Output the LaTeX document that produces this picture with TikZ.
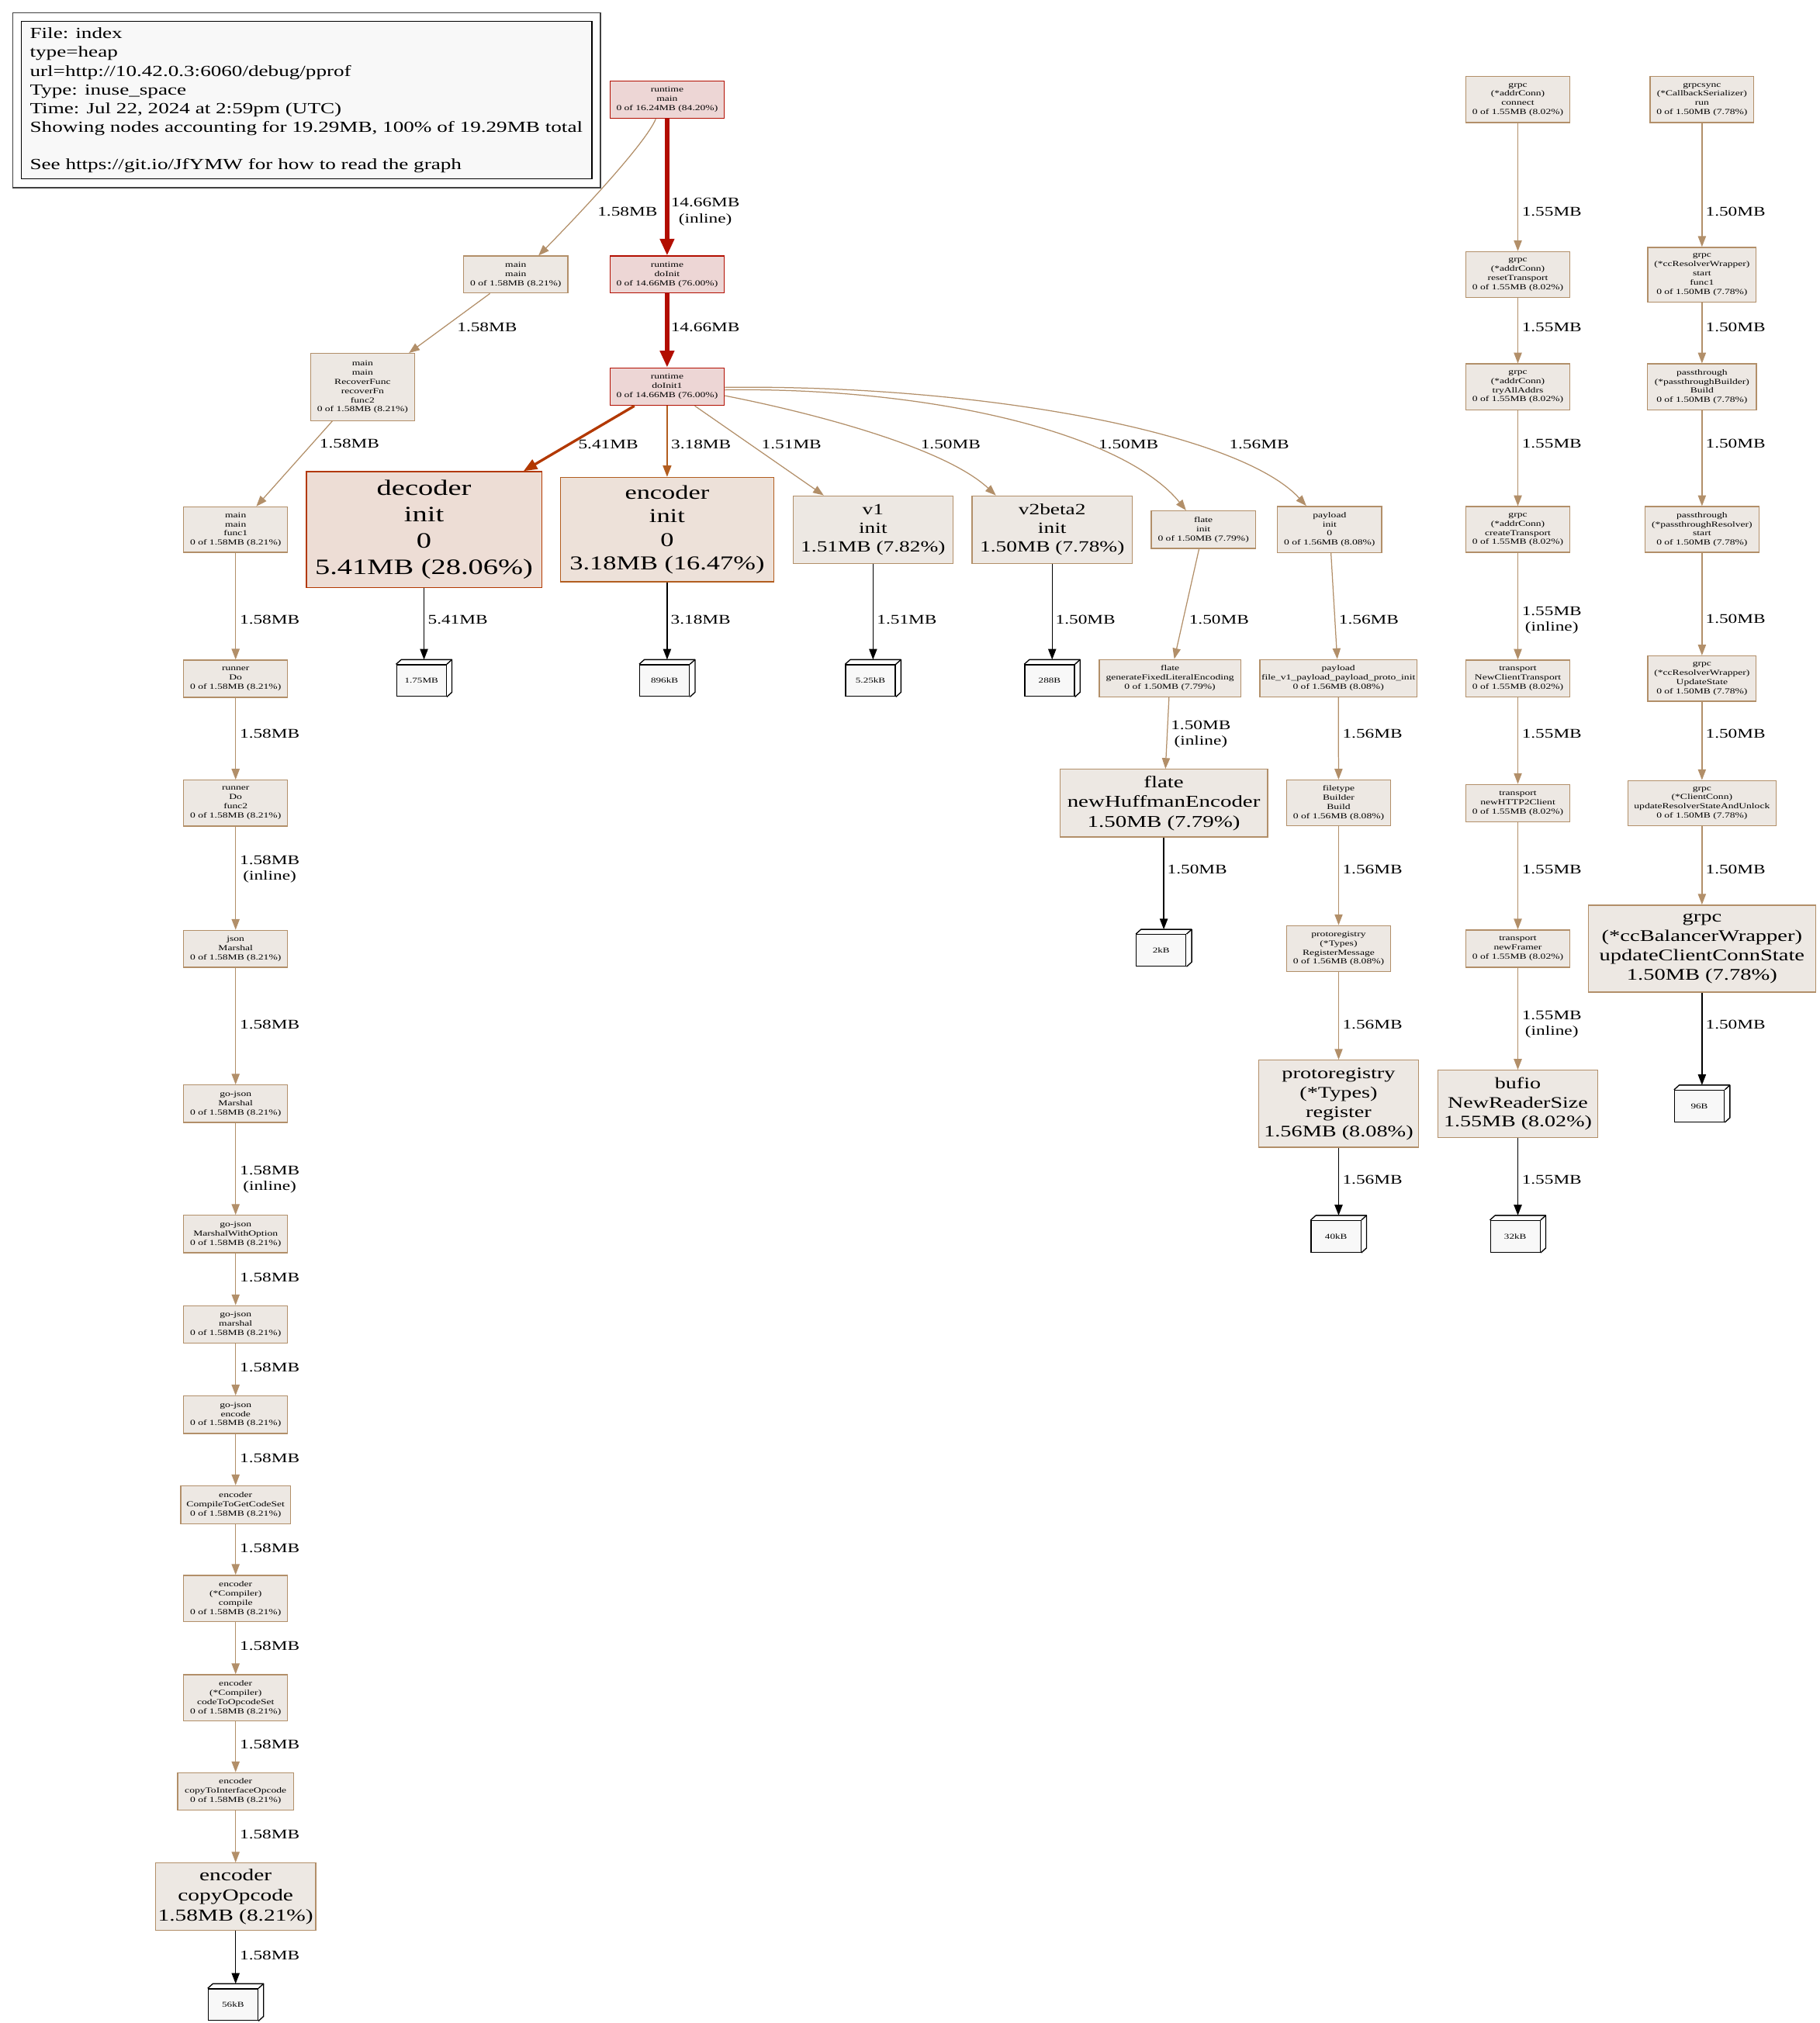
\documentclass[tikz,border=0pt]{standalone}
\usepackage{fontspec}
\setmainfont{Liberation Serif}[FakeStretch=1.36]
\usepackage{xcolor}
\usepackage{tikz}
\usetikzlibrary{arrows.meta}
\definecolor{HotFill}{HTML}{EDD6D5}
\definecolor{HotLine}{HTML}{B20E00}
\definecolor{DecFill}{HTML}{EDDDD5}
\definecolor{DecLine}{HTML}{B23800}
\definecolor{EncFill}{HTML}{EDE1D9}
\definecolor{EncLine}{HTML}{B25D1F}
\definecolor{FnFill}{HTML}{EDE8E3}
\definecolor{FnLine}{HTML}{B28F69}
\definecolor{LeafFill}{HTML}{F8F8F8}
\newcommand{\fnsmall}{\fontsize{6}{7.15}\selectfont}
\newcommand{\fnlabel}{\fontsize{10.3}{12.3}\selectfont}
\newcommand{\fnlegend}{\fontsize{12}{14.5}\selectfont}
\newcommand{\fnleaf}{\fontsize{5.8}{7}\selectfont}
% box3d leaf: front face, top and side faces, and the point the arrow ends at
\newcommand{\leafbox}[4]{%
  \node[leaf] (#1) at (#2,#3) {#4};
  \draw[leafline] (#1.north west) -- ([xshift=4pt,yshift=3.6pt]#1.north west) -- ([xshift=4pt,yshift=3.6pt]#1.north east) -- ([xshift=4pt,yshift=3.6pt]#1.south east) -- (#1.south east);
  \draw[leafline] (#1.north east) -- ([xshift=4pt,yshift=3.6pt]#1.north east);
  \coordinate (#1top) at ([xshift=2pt,yshift=3.6pt]#1.north);
}
\tikzset{
  fn/.style={draw=FnLine, fill=FnFill, line width=0.8pt, align=center, inner sep=0pt, font=\fnsmall},
  hot/.style={fn, draw=HotLine, fill=HotFill},
  dims/.style 2 args={minimum width=#1pt, minimum height=#2pt},
  leaf/.style={draw=black, fill=LeafFill, line width=0.8pt, inner sep=0pt, minimum width=38.5pt, minimum height=24.5pt, font=\fnleaf},
  leafline/.style={black, line width=0.8pt, line join=round},
  call/.style={draw=FnLine, line width=0.75pt, -{Triangle[length=8.3pt,width=6.2pt]}},
  callhot/.style={draw=HotLine, line width=3.4pt, -{Triangle[length=13pt,width=10.6pt]}},
  calldec/.style={draw=DecLine, line width=2pt, -{Triangle[length=10.5pt,width=8.2pt]}},
  callenc/.style={draw=EncLine, line width=0.9pt, -{Triangle[length=8.8pt,width=6.6pt]}},
  alloc/.style={draw=black, line width=0.8pt, -{Triangle[length=8.3pt,width=6.2pt]}},
  lbl/.style={font=\fnlabel, align=center, inner sep=0pt, text=black}
}

\begin{document}
\begin{tikzpicture}[x=1pt,y=-1pt]
\path[use as bounding box] (0,0) rectangle (1410,1568);

% legend
\node[draw=black!75, line width=0.8pt, dims={455.4}{135.6}, inner sep=0pt, anchor=north west] (legend_out) at (9.6,9.4) {};
\node[draw=black, fill=LeafFill, line width=0.9pt, dims={442.3}{122}, inner sep=0pt, anchor=north west] (legend_in) at (16,16) {};
\node[anchor=north west, align=left, inner sep=0pt, font=\fnlegend] (legend_txt) at (23,21.4) {File: index\\type=heap\\url=http://10.42.0.3:6060/debug/pprof\\Type: inuse\_space\\Time: Jul 22, 2024 at 2:59pm (UTC)\\Showing nodes accounting for 19.29MB, 100\% of 19.29MB total\\[14.5pt]See https://git.io/JfYMW for how to read the graph};

% runtime
\node[hot, dims={88.6}{29}] (rt_main) at (517,77.3) {runtime\\main\\0 of 16.24MB (84.20\%)};
\node[hot, dims={88.6}{28.6}] (rt_doInit) at (517,212.8) {runtime\\doInit\\0 of 14.66MB (76.00\%)};
\node[hot, dims={88.6}{29}] (rt_doInit1) at (517,299.7) {runtime\\doInit1\\0 of 14.66MB (76.00\%)};

% main chain
\node[fn, dims={80.7}{28.6}] (main_main) at (399.7,212.8) {main\\main\\0 of 1.58MB (8.21\%)};
\node[fn, dims={80.7}{52}] (main_recover) at (281,300) {main\\main\\RecoverFunc\\recoverFn\\func2\\0 of 1.58MB (8.21\%)};
\node[fn, dims={80.7}{35.2}] (main_func1) at (182.6,410.5) {main\\main\\func1\\0 of 1.58MB (8.21\%)};
\node[fn, dims={80.7}{28.8}] (runner_Do) at (182.6,526) {runner\\Do\\0 of 1.58MB (8.21\%)};
\node[fn, dims={80.7}{35.7}] (runner_func2) at (182.6,622.5) {runner\\Do\\func2\\0 of 1.58MB (8.21\%)};
\node[fn, dims={80.7}{28.7}] (json_Marshal) at (182.6,735.4) {json\\Marshal\\0 of 1.58MB (8.21\%)};
\node[fn, dims={80.7}{29}] (gojson_Marshal) at (182.6,855.5) {go-json\\Marshal\\0 of 1.58MB (8.21\%)};
\node[fn, dims={80.7}{29}] (gojson_MWO) at (182.6,956.5) {go-json\\MarshalWithOption\\0 of 1.58MB (8.21\%)};
\node[fn, dims={80.7}{29}] (gojson_marshal) at (182.6,1026.5) {go-json\\marshal\\0 of 1.58MB (8.21\%)};
\node[fn, dims={80.7}{29}] (gojson_encode) at (182.6,1096.5) {go-json\\encode\\0 of 1.58MB (8.21\%)};
\node[fn, dims={85}{29.4}] (enc_CTGCS) at (182.6,1166.3) {encoder\\CompileToGetCodeSet\\0 of 1.58MB (8.21\%)};
\node[fn, dims={80.7}{36}] (enc_compile) at (182.6,1239) {encoder\\(*Compiler)\\compile\\0 of 1.58MB (8.21\%)};
\node[fn, dims={80.7}{36}] (enc_codeTo) at (182.6,1316) {encoder\\(*Compiler)\\codeToOpcodeSet\\0 of 1.58MB (8.21\%)};
\node[fn, dims={90}{29}] (enc_copyTo) at (182.6,1388.5) {encoder\\copyToInterfaceOpcode\\0 of 1.58MB (8.21\%)};
\node[fn, dims={124.3}{52}, font=\fontsize{13}{15.6}\selectfont] (enc_copyOpcode) at (182.6,1470) {encoder\\copyOpcode\\1.58MB (8.21\%)};
\leafbox{lf56k}{180.6}{1553.8}{56kB}

% init row
\node[fn, draw=DecLine, fill=DecFill, dims={182.4}{90}, font=\fontsize{17}{20.3}\selectfont] (decoder_init) at (328.6,410.5) {decoder\\init\\0\\5.41MB (28.06\%)};
\node[fn, draw=EncLine, fill=EncFill, dims={165.5}{81}, font=\fontsize{15.2}{18.3}\selectfont] (encoder_init) at (517,410.5) {encoder\\init\\0\\3.18MB (16.47\%)};
\node[fn, dims={124}{52.3}, font=\fontsize{12.1}{14.5}\selectfont] (v1_init) at (676.6,410.5) {v1\\init\\1.51MB (7.82\%)};
\node[fn, dims={124}{52.3}, font=\fontsize{12.1}{14.5}\selectfont] (v2_init) at (815.4,410.5) {v2beta2\\init\\1.50MB (7.78\%)};
\node[fn, dims={80.6}{29}] (flate_init) at (932.6,410.5) {flate\\init\\0 of 1.50MB (7.79\%)};
\node[fn, dims={80.7}{35.8}] (payload_init) at (1030.4,410.4) {payload\\init\\0\\0 of 1.56MB (8.08\%)};
\leafbox{lf175}{326.6}{527.5}{1.75MB}
\leafbox{lf896}{515}{527.5}{896kB}
\leafbox{lf525}{674.6}{527.5}{5.25kB}
\leafbox{lf288}{813.4}{527.5}{288B}

% flate and payload chains
\node[fn, dims={109.6}{29}] (flate_gen) at (906.7,525.7) {flate\\generateFixedLiteralEncoding\\0 of 1.50MB (7.79\%)};
\node[fn, dims={161}{52.5}, font=\fontsize{12.8}{15.4}\selectfont] (flate_huff) at (901.9,622.5) {flate\\newHuffmanEncoder\\1.50MB (7.79\%)};
\leafbox{lf2k}{899.9}{736.6}{2kB}
\node[fn, dims={121.5}{29}] (payload_file) at (1037.2,525.7) {payload\\file\_v1\_payload\_payload\_proto\_init\\0 of 1.56MB (8.08\%)};
\node[fn, dims={80.2}{35.6}] (ft_build) at (1037.4,622.4) {filetype\\Builder\\Build\\0 of 1.56MB (8.08\%)};
\node[fn, dims={80.2}{35.6}] (preg_msg) at (1037.4,735.2) {protoregistry\\(*Types)\\RegisterMessage\\0 of 1.56MB (8.08\%)};
\node[fn, dims={124.2}{67.6}, font=\fontsize{12.5}{15}\selectfont] (preg_reg) at (1037.4,855.5) {protoregistry\\(*Types)\\register\\1.56MB (8.08\%)};
\leafbox{lf40k}{1035.4}{958.3}{40kB}

% grpc addrConn chain
\node[fn, dims={80.5}{35.6}] (ac_connect) at (1176.3,77.2) {grpc\\(*addrConn)\\connect\\0 of 1.55MB (8.02\%)};
\node[fn, dims={80.5}{35.7}] (ac_reset) at (1176.3,212.9) {grpc\\(*addrConn)\\resetTransport\\0 of 1.55MB (8.02\%)};
\node[fn, dims={80.5}{35.5}] (ac_tryAll) at (1176.3,299.8) {grpc\\(*addrConn)\\tryAllAddrs\\0 of 1.55MB (8.02\%)};
\node[fn, dims={80.5}{35.5}] (ac_create) at (1176.3,410.4) {grpc\\(*addrConn)\\createTransport\\0 of 1.55MB (8.02\%)};
\node[fn, dims={80.5}{28.6}] (tr_NCT) at (1176.3,526) {transport\\NewClientTransport\\0 of 1.55MB (8.02\%)};
\node[fn, dims={80.5}{29}] (tr_HTTP2) at (1176.3,622.5) {transport\\newHTTP2Client\\0 of 1.55MB (8.02\%)};
\node[fn, dims={80.5}{29}] (tr_framer) at (1176.3,735.3) {transport\\newFramer\\0 of 1.55MB (8.02\%)};
\node[fn, dims={124.2}{52}, font=\fontsize{12.4}{14.8}\selectfont] (bufio_NRS) at (1176.3,855.5) {bufio\\NewReaderSize\\1.55MB (8.02\%)};
\leafbox{lf32k}{1174.3}{958.3}{32kB}

% grpc resolver chain
\node[fn, dims={80.5}{35.6}] (sync_run) at (1319,77.2) {grpcsync\\(*CallbackSerializer)\\run\\0 of 1.50MB (7.78\%)};
\node[fn, dims={84}{42.3}] (ccr_start) at (1319,212.9) {grpc\\(*ccResolverWrapper)\\start\\func1\\0 of 1.50MB (7.78\%)};
\node[fn, dims={84.5}{35.5}] (pt_build) at (1319,299.8) {passthrough\\(*passthroughBuilder)\\Build\\0 of 1.50MB (7.78\%)};
\node[fn, dims={88.5}{35.5}] (pt_start) at (1319,410.4) {passthrough\\(*passthroughResolver)\\start\\0 of 1.50MB (7.78\%)};
\node[fn, dims={84}{35.2}] (ccr_update) at (1319,526) {grpc\\(*ccResolverWrapper)\\UpdateState\\0 of 1.50MB (7.78\%)};
\node[fn, dims={115}{35}] (cc_unlock) at (1319,622.5) {grpc\\(*ClientConn)\\updateResolverStateAndUnlock\\0 of 1.50MB (7.78\%)};
\node[fn, dims={176.3}{67.5}, font=\fontsize{12.6}{15.1}\selectfont] (ccb_update) at (1319,735.3) {grpc\\(*ccBalancerWrapper)\\updateClientConnState\\1.50MB (7.78\%)};
\leafbox{lf96}{1317}{857.3}{96B}

% edges from runtime
\draw[callhot] (rt_main) -- (rt_doInit) node[lbl] (lb1) at (546.6,164.3) {14.66MB\\(inline)};
\draw[callhot] (rt_doInit) -- (rt_doInit1) node[lbl] (lb2) at (546.6,253.5) {14.66MB};
\draw[call] ([xshift=-8.8pt]rt_main.south) .. controls (500,112) and (445,170) .. ([xshift=17.6pt]main_main.north) node[lbl] (lb3) at (486.3,164) {1.58MB};
\draw[calldec] (rt_doInit1) -- (decoder_init) node[lbl] (lb4) at (471.4,344.2) {5.41MB};
\draw[callenc] (rt_doInit1) -- (encoder_init) node[lbl] (lb5) at (543.3,344.2) {3.18MB};
\draw[call] (rt_doInit1) -- (v1_init) node[lbl] (lb6) at (613.4,344.2) {1.51MB};
\draw[call] ([yshift=-7pt]rt_doInit1.east) .. controls (620,318) and (730,345) .. ([xshift=-43.6pt]v2_init.north) node[lbl] (lb7) at (736.7,344.2) {1.50MB};
\draw[call] ([yshift=-2.5pt]rt_doInit1.east) .. controls (720,300) and (870,335) .. ([xshift=-13.4pt]flate_init.north) node[lbl] (lb8) at (874.5,344.2) {1.50MB};
\draw[call] ([yshift=-0.5pt]rt_doInit1.east) .. controls (760,298) and (960,335) .. ([xshift=-18pt]payload_init.north) node[lbl] (lb9) at (975.8,344.2) {1.56MB};

% main chain edges
\draw[call] (main_main) -- (main_recover) node[lbl] (lb10) at (377.5,253.5) {1.58MB};
\draw[call] (main_recover) -- (main_func1) node[lbl] (lb11) at (270.8,344) {1.58MB};
\draw[call] (main_func1) -- (runner_Do) node[lbl] (lb12) at (209,480.5) {1.58MB};
\draw[call] (runner_Do) -- (runner_func2) node[lbl] (lb13) at (209,568.7) {1.58MB};
\draw[call] (runner_func2) -- (json_Marshal) node[lbl] (lb14) at (209,673.8) {1.58MB\\(inline)};
\draw[call] (json_Marshal) -- (gojson_Marshal) node[lbl] (lb15) at (209,794) {1.58MB};
\draw[call] (gojson_Marshal) -- (gojson_MWO) node[lbl] (lb16) at (209,914.3) {1.58MB\\(inline)};
\draw[call] (gojson_MWO) -- (gojson_marshal) node[lbl] (lb17) at (209,990) {1.58MB};
\draw[call] (gojson_marshal) -- (gojson_encode) node[lbl] (lb18) at (209,1060) {1.58MB};
\draw[call] (gojson_encode) -- (enc_CTGCS) node[lbl] (lb19) at (209,1130) {1.58MB};
\draw[call] (enc_CTGCS) -- (enc_compile) node[lbl] (lb20) at (209,1200) {1.58MB};
\draw[call] (enc_compile) -- (enc_codeTo) node[lbl] (lb21) at (209,1276) {1.58MB};
\draw[call] (enc_codeTo) -- (enc_copyTo) node[lbl] (lb22) at (209,1352) {1.58MB};
\draw[call] (enc_copyTo) -- (enc_copyOpcode) node[lbl] (lb23) at (209,1422) {1.58MB};
\draw[alloc] (enc_copyOpcode) -- (lf56ktop) node[lbl] (lb24) at (209,1515.6) {1.58MB};

% init row edges
\draw[alloc] (decoder_init) -- (lf175top) node[lbl] (lb25) at (354.8,480.5) {5.41MB};
\draw[alloc] (encoder_init) -- (lf896top) node[lbl] (lb26) at (543,480.5) {3.18MB};
\draw[alloc] (v1_init) -- (lf525top) node[lbl] (lb27) at (702.8,480.5) {1.51MB};
\draw[alloc] (v2_init) -- (lf288top) node[lbl] (lb28) at (841.2,480.5) {1.50MB};
\draw[call] (flate_init) -- (flate_gen) node[lbl] (lb29) at (944.7,480.5) {1.50MB};
\draw[call] (flate_gen) -- (flate_huff) node[lbl] (lb30) at (930.6,569) {1.50MB\\(inline)};
\draw[alloc] (flate_huff) -- (lf2ktop) node[lbl] (lb31) at (927.8,674) {1.50MB};
\draw[call] (payload_init) -- (payload_file) node[lbl] (lb32) at (1060.8,480.5) {1.56MB};
\draw[call] (payload_file) -- (ft_build) node[lbl] (lb33) at (1063.6,569) {1.56MB};
\draw[call] (ft_build) -- (preg_msg) node[lbl] (lb34) at (1063.6,674) {1.56MB};
\draw[call] (preg_msg) -- (preg_reg) node[lbl] (lb35) at (1063.6,794.4) {1.56MB};
\draw[alloc] (preg_reg) -- (lf40ktop) node[lbl] (lb36) at (1063.6,914.6) {1.56MB};

% addrConn chain edges
\draw[call] (ac_connect) -- (ac_reset) node[lbl] (lb37) at (1202.6,164) {1.55MB};
\draw[call] (ac_reset) -- (ac_tryAll) node[lbl] (lb38) at (1202.6,253.5) {1.55MB};
\draw[call] (ac_tryAll) -- (ac_create) node[lbl] (lb39) at (1202.6,344) {1.55MB};
\draw[call] (ac_create) -- (tr_NCT) node[lbl] (lb40) at (1202.6,480.8) {1.55MB\\(inline)};
\draw[call] (tr_NCT) -- (tr_HTTP2) node[lbl] (lb41) at (1202.6,569) {1.55MB};
\draw[call] (tr_HTTP2) -- (tr_framer) node[lbl] (lb42) at (1202.6,674) {1.55MB};
\draw[call] (tr_framer) -- (bufio_NRS) node[lbl] (lb43) at (1202.6,794) {1.55MB\\(inline)};
\draw[alloc] (bufio_NRS) -- (lf32ktop) node[lbl] (lb44) at (1202.6,914.6) {1.55MB};

% resolver chain edges
\draw[call] (sync_run) -- (ccr_start) node[lbl] (lb45) at (1345,164) {1.50MB};
\draw[call] (ccr_start) -- (pt_build) node[lbl] (lb46) at (1345,253.5) {1.50MB};
\draw[call] (pt_build) -- (pt_start) node[lbl] (lb47) at (1345,344) {1.50MB};
\draw[call] (pt_start) -- (ccr_update) node[lbl] (lb48) at (1345,480) {1.50MB};
\draw[call] (ccr_update) -- (cc_unlock) node[lbl] (lb49) at (1345,569) {1.50MB};
\draw[call] (cc_unlock) -- (ccb_update) node[lbl] (lb50) at (1345,674) {1.50MB};
\draw[alloc] (ccb_update) -- (lf96top) node[lbl] (lb51) at (1345,794) {1.50MB};
\end{tikzpicture}
\end{document}
